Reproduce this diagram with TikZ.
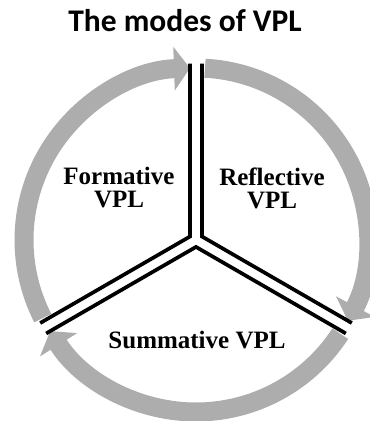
\documentclass[tikz,border=0pt]{standalone}
\usepackage{fontspec}
\setmainfont{Liberation Serif}
\newfontfamily\titlefont{Carlito}
\usetikzlibrary{arrows.meta,calc}
\definecolor{ringgray}{HTML}{ADADAD}
\tikzset{
  ring/.style={draw=ringgray,line width=19pt},
  ringtip/.style={-{Triangle[length=16pt,width=43pt]}},
  wedge/.style={draw=black,line width=3.7pt,line join=miter},
  modetext/.style={font=\bfseries\fontsize{25}{23}\selectfont,align=center}
}
\begin{document}
\begin{tikzpicture}[x=1pt,y=1pt]
        \useasboundingbox (0,0) rectangle (370,421);
        \coordinate (c) at (196,181);
        % arrows round the circle
        \draw[ring,ringtip] ($(c)+(207:172)$) arc[start angle=207,end angle=92,radius=172];
        \draw[ring,ringtip] ($(c)+(87:172)$) arc[start angle=87,end angle=-28,radius=172];
        \draw[ring,ringtip] ($(c)+(-33:172)$) arc[start angle=-33,end angle=-148,radius=172];
        % the three sectors
        \foreach \a in {90,210,330}{
            \coordinate (k) at ($(c)+(\a+60:6.93)$);
            \draw[wedge] ($(k)+(\a:173)$) -- (k) -- ($(k)+(\a+120:173)$);
        }
        \node[font=\titlefont\bfseries\fontsize{31.5}{36}\selectfont,anchor=base] (title) at (185,389) {The modes of VPL};
        \node[modetext] (form) at (119,233) {Formative\\VPL};
        \node[modetext] (refl) at (272,233) {Reflective\\VPL};
        \node[modetext,anchor=base] (summ) at (197,72) {Summative VPL};
    \end{tikzpicture}
\end{document}
